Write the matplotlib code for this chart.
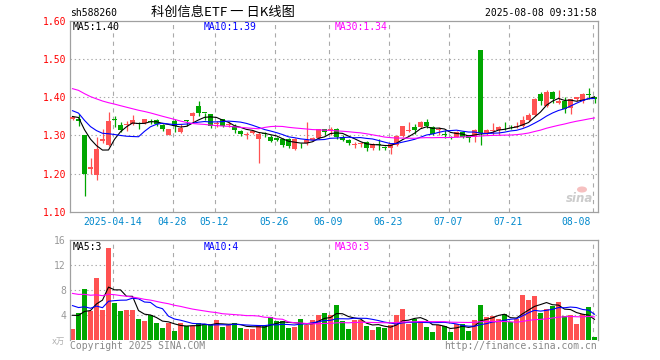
import numpy as np
import matplotlib
matplotlib.use("Agg")
from matplotlib import pyplot as plt
from matplotlib.patches import Circle

plt.rcParams['font.family'] = ['DejaVu Sans Mono', 'Noto Sans CJK SC']
plt.rcParams['lines.scale_dashes'] = False

# daily candles 2025-04-02 .. 2025-08-08 (88 trading days)
opens = [1.343, 1.342, 1.300, 1.213, 1.197, 1.286, 1.276, 1.342, 1.327, 1.327,
         1.331, 1.333, 1.333, 1.338, 1.340, 1.327, 1.302, 1.337, 1.310, 1.341,
         1.352, 1.376, 1.360, 1.355, 1.330, 1.342, 1.328, 1.325, 1.311, 1.302,
         1.307, 1.291, 1.306, 1.296, 1.292, 1.290, 1.290, 1.265, 1.276, 1.280,
         1.288, 1.292, 1.316, 1.314, 1.318, 1.296, 1.288, 1.275, 1.278, 1.284,
         1.266, 1.278, 1.270, 1.266, 1.276, 1.298, 1.312, 1.323, 1.322, 1.336,
         1.322, 1.315, 1.304, 1.297, 1.297, 1.309, 1.300, 1.297, 1.524, 1.304,
         1.311, 1.314, 1.326, 1.325, 1.323, 1.325, 1.341, 1.354, 1.409, 1.377,
         1.415, 1.385, 1.389, 1.372, 1.395, 1.389, 1.409, 1.401]
closes = [1.348, 1.337, 1.200, 1.216, 1.265, 1.290, 1.338, 1.340, 1.315, 1.330,
          1.340, 1.331, 1.342, 1.336, 1.330, 1.318, 1.318, 1.325, 1.319, 1.339,
          1.360, 1.360, 1.359, 1.325, 1.332, 1.325, 1.331, 1.314, 1.304, 1.305,
          1.312, 1.304, 1.303, 1.286, 1.289, 1.275, 1.271, 1.291, 1.274, 1.288,
          1.293, 1.316, 1.310, 1.318, 1.295, 1.288, 1.280, 1.276, 1.280, 1.266,
          1.278, 1.276, 1.268, 1.278, 1.298, 1.324, 1.315, 1.314, 1.336, 1.324,
          1.304, 1.318, 1.302, 1.292, 1.309, 1.297, 1.293, 1.314, 1.306, 1.314,
          1.313, 1.323, 1.324, 1.324, 1.326, 1.341, 1.354, 1.395, 1.391, 1.415,
          1.395, 1.389, 1.369, 1.395, 1.400, 1.409, 1.407, 1.396]
highs = [1.352, 1.356, 1.300, 1.240, 1.296, 1.318, 1.362, 1.352, 1.336, 1.338,
         1.354, 1.335, 1.344, 1.342, 1.342, 1.330, 1.318, 1.342, 1.330, 1.341,
         1.362, 1.390, 1.360, 1.357, 1.338, 1.342, 1.336, 1.330, 1.313, 1.310,
         1.314, 1.308, 1.310, 1.300, 1.296, 1.292, 1.292, 1.293, 1.280, 1.336,
         1.295, 1.318, 1.318, 1.322, 1.320, 1.300, 1.290, 1.282, 1.284, 1.285,
         1.280, 1.290, 1.272, 1.280, 1.300, 1.326, 1.336, 1.330, 1.338, 1.342,
         1.324, 1.322, 1.314, 1.299, 1.311, 1.312, 1.302, 1.318, 1.524, 1.316,
         1.332, 1.325, 1.336, 1.328, 1.336, 1.351, 1.358, 1.397, 1.415, 1.418,
         1.416, 1.419, 1.400, 1.396, 1.402, 1.410, 1.424, 1.402]
lows = [1.340, 1.326, 1.142, 1.198, 1.183, 1.280, 1.273, 1.322, 1.309, 1.312,
        1.328, 1.318, 1.330, 1.330, 1.325, 1.312, 1.300, 1.310, 1.306, 1.325,
        1.335, 1.350, 1.340, 1.320, 1.323, 1.322, 1.322, 1.307, 1.298, 1.290,
        1.304, 1.228, 1.296, 1.284, 1.285, 1.270, 1.268, 1.262, 1.268, 1.276,
        1.286, 1.290, 1.302, 1.300, 1.290, 1.285, 1.276, 1.268, 1.270, 1.260,
        1.262, 1.262, 1.262, 1.250, 1.272, 1.296, 1.308, 1.305, 1.320, 1.320,
        1.300, 1.300, 1.292, 1.290, 1.295, 1.294, 1.284, 1.284, 1.275, 1.302,
        1.301, 1.301, 1.314, 1.318, 1.320, 1.322, 1.339, 1.352, 1.380, 1.374,
        1.384, 1.382, 1.358, 1.356, 1.390, 1.385, 1.395, 1.386]
# volume, 10k lots
volumes = [1.8, 4.4, 8.2, 4.7, 10.0, 4.85, 14.8, 6.0, 4.7, 4.85,
           4.85, 3.4, 3.1, 4.05, 2.8, 2.0, 2.8, 1.5, 2.8, 2.3,
           2.3, 2.8, 2.6, 2.4, 3.25, 2.1, 2.45, 2.8, 2.0, 1.8,
           1.8, 2.45, 2.45, 3.7, 3.1, 3.1, 2.0, 2.1, 3.4, 2.45,
           3.25, 4.05, 4.4, 4.05, 5.65, 3.1, 1.8, 3.25, 3.25, 2.3,
           1.65, 2.1, 2.0, 2.45, 4.05, 5.0, 2.6, 3.4, 3.1, 2.1,
           1.3, 2.45, 2.3, 1.3, 2.6, 2.6, 1.5, 3.25, 5.65, 3.7,
           3.9, 3.4, 4.2, 2.9, 3.4, 7.25, 6.45, 7.1, 4.4, 5.0,
           5.5, 6.15, 3.9, 4.05, 2.6, 4.2, 5.35, 0.55]

# sessions before the window, only feed the moving averages
prior_closes = [1.47, 1.46, 1.45, 1.44, 1.46, 1.47, 1.45, 1.44, 1.45, 1.46,
                1.45, 1.44, 1.45, 1.46, 1.45, 1.44, 1.45, 1.45, 1.44, 1.45,
                1.40, 1.39, 1.38, 1.37, 1.36, 1.35, 1.36, 1.34, 1.35]
prior_volumes = [9, 8, 9, 8, 9, 8, 8, 9, 8, 9, 8, 9, 8, 9, 8, 8, 9, 8, 9, 8.5,
                 7.5, 7, 7, 6.5, 7.5, 4.5, 5, 4, 4.7]

tick_idx = [7, 17, 24, 34, 43, 53, 63, 73, 87]
tick_labels = ['2025-04-14', '04-28', '05-12', '05-26', '06-09',
               '06-23', '07-07', '07-21', '08-08']

price_legend = ['MA5:1.40', 'MA10:1.39', 'MA30:1.34']
vol_legend = ['MA5:3', 'MA10:4', 'MA30:3']

RED = '#ff5252'
GREEN = '#00a600'
GRID = '#aaaaaa'
FRAME = '#a0a0a0'
MA_COLORS = ['black', '#0000ff', '#ff00ff']


def moving_avg(prior, vals, n):
    full = np.array(prior + vals, dtype=float)
    out = []
    for k in range(len(prior), len(full)):
        out.append(full[k - n + 1:k + 1].mean())
    return np.array(out)


W, H = 660, 360
fig = plt.figure(figsize=(W / 100, H / 100), dpi=100)
fig.patch.set_facecolor('white')


def fx(px):
    return px / W


def fy(py):
    return 1 - py / H


ax = fig.add_axes([fx(69.5), fy(211.7), fx(528), 190.7 / H])
axv = fig.add_axes([fx(69.5), fy(340.3), fx(528), 100 / H])

x = np.arange(len(closes))
o = np.array(opens)
c = np.array(closes)
hi = np.array(highs)
lo = np.array(lows)
up = c >= o
cols = np.where(up, RED, GREEN)

for a in (ax, axv):
    a.set_xlim(-0.5, len(closes) - 0.5)
    for s in a.spines.values():
        s.set_color(FRAME)
        s.set_linewidth(0.9)
    a.tick_params(length=0, labelbottom=False)
    a.set_xticks([])
    for t in tick_idx:
        a.axvline(t - 1 / 3, color=GRID, lw=0.8, ls=(0, (3, 3)), zorder=0)

# price panel
ax.set_ylim(1.10, 1.60)
yt = [1.10, 1.20, 1.30, 1.40, 1.50, 1.60]
ax.set_yticks(yt)
ax.set_yticklabels(['%.2f' % v for v in yt], color='red', fontsize=7)
ax.tick_params(axis='y', pad=2.5)
for v in yt[1:-1]:
    ax.axhline(v, color=GRID, lw=0.8, ls=(0, (1, 2)), zorder=0)

ax.vlines(x, lo, hi, colors=cols, lw=0.9, zorder=2)
body_h = np.maximum(np.abs(c - o), 0.0015)
ax.bar(x, body_h, bottom=np.minimum(o, c), width=0.8, color=cols,
       edgecolor='none', zorder=3)

for n, col in zip([5, 10, 30], MA_COLORS):
    ax.plot(x, moving_avg(prior_closes, closes, n), color=col, lw=0.8, zorder=4)

for k, (txt, col) in enumerate(zip(price_legend, MA_COLORS)):
    fig.text(fx(73 + 131 * k), fy(27), txt, color=col, fontsize=7,
             ha='left', va='center')

for t, lab in zip(tick_idx, tick_labels):
    if t == tick_idx[-1]:
        ax.text(86.4, -0.052, lab, transform=ax.get_xaxis_transform(),
                ha='right', va='center', color='#0088cc', fontsize=7)
    else:
        ax.text(t - 1 / 3, -0.052, lab, transform=ax.get_xaxis_transform(),
                ha='center', va='center', color='#0088cc', fontsize=7)

# volume panel
axv.set_ylim(0, 16)
axv.spines['bottom'].set_visible(False)
vt = [4, 8, 12, 16]
axv.set_yticks(vt)
axv.set_yticklabels([str(v) for v in vt], color='#999999', fontsize=7)
axv.tick_params(axis='y', pad=2.5)
for v in vt[:-1]:
    axv.axhline(v, color=GRID, lw=0.8, ls=(0, (1, 2)), zorder=0)
axv.bar(x, volumes, width=0.8, color=cols, edgecolor='none', zorder=2)
for n, col in zip([5, 10, 30], MA_COLORS):
    axv.plot(x, moving_avg(prior_volumes, volumes, n), color=col, lw=0.8, zorder=3)
for k, (txt, col) in enumerate(zip(vol_legend, MA_COLORS)):
    fig.text(fx(73 + 131 * k), fy(247.5), txt, color=col, fontsize=7,
             ha='left', va='center')
fig.text(fx(65), fy(341), 'x万', color='#b0b0b0', fontsize=6,
         ha='right', va='center', family=['DejaVu Sans', 'Noto Sans CJK SC'])

# header and footer
fig.text(fx(70), fy(13), 'sh588260', fontsize=7, ha='left', va='center')
fig.text(fx(223), fy(12.5), '科创信息ETF 一 日K线图', fontsize=9.5,
         ha='center', va='center', family=['Noto Sans CJK SC', 'DejaVu Sans'])
fig.text(fx(597), fy(13), '2025-08-08 09:31:58', fontsize=7,
         ha='right', va='center')
fig.text(fx(70), fy(346), 'Copyright 2025 SINA.COM', fontsize=7,
         color='#888888', ha='left', va='center')
fig.text(fx(597), fy(346), 'http://finance.sina.com.cn', fontsize=7,
         color='#888888', ha='right', va='center')

# watermark
fig.text(fx(580), fy(198.5), 'sina', fontsize=8.5, color='#cccccc',
         style='italic', weight='bold', ha='center', va='center',
         family='DejaVu Sans')
fig.patches.append(Circle((fx(582), fy(189.5)), 0.0065, transform=fig.transFigure,
                          color='#f6c0c0', zorder=5))

fig.savefig('out.png', dpi=100)
